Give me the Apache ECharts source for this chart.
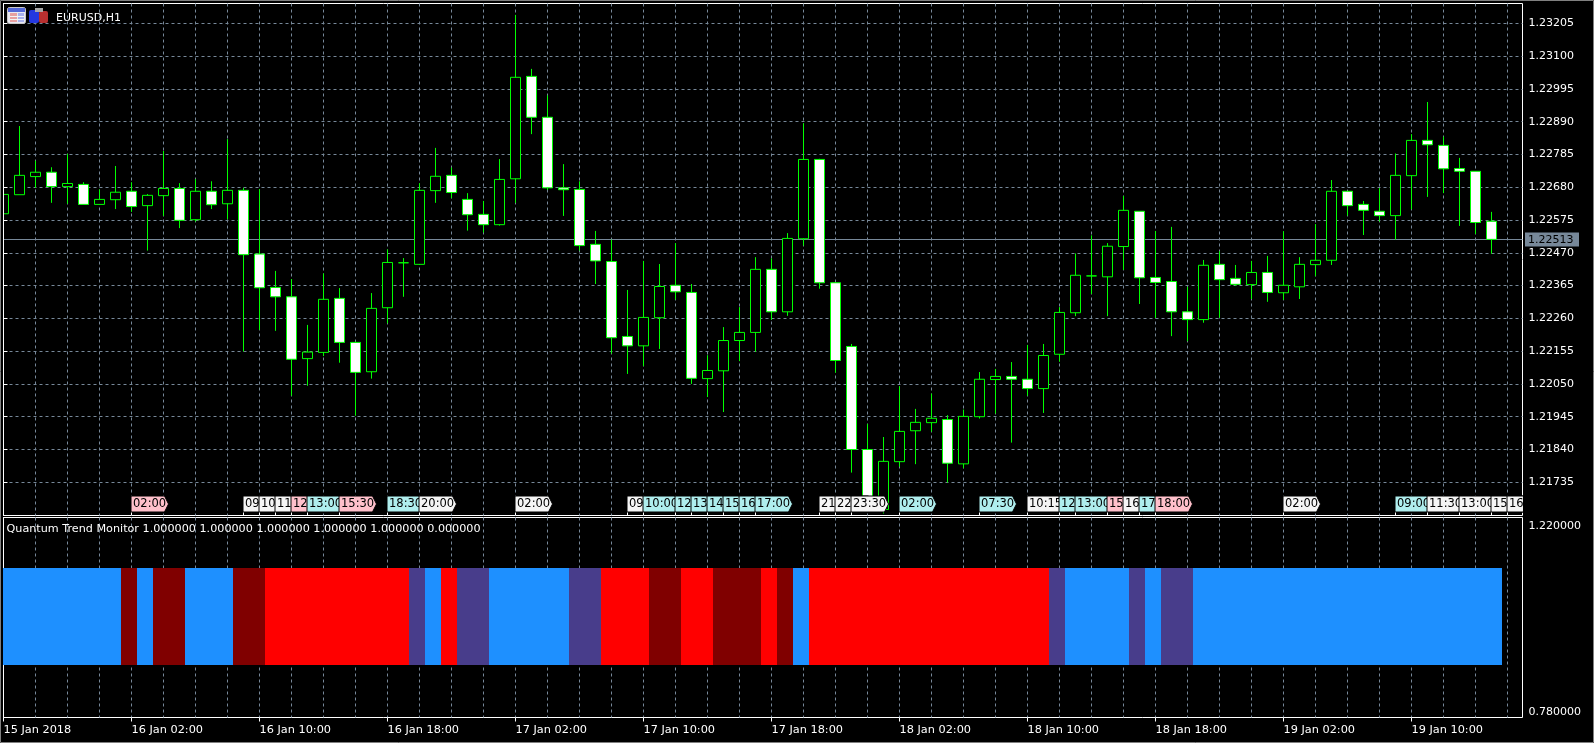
<!DOCTYPE html>
<html>
<head>
<meta charset="utf-8">
<script src="https://cdn.jsdelivr.net/npm/echarts@6/dist/echarts.min.js"></script>
<style>html,body{margin:0;padding:0;background:#000}#c{width:1594px;height:743px}</style>
</head>
<body>
<div id="c"></div>
<script>
var symbolTitle = 'EURUSD,H1';
var indicatorTitle = 'Quantum Trend Monitor 1.000000 1.000000 1.000000 1.000000 1.000000 0.000000';
var lastPrice = 1.22513;
var opens = [1.22595,1.22656,1.22714,1.22728,1.22682,1.22689,1.22625,1.22640,1.22667,1.22621,
1.22653,1.22676,1.22576,1.22667,1.22627,1.22670,1.22466,1.22359,1.22329,1.22131,
1.22151,1.22324,1.22183,1.22089,1.22294,1.22438,1.22433,1.22669,1.22718,1.22641,
1.22593,1.22560,1.22707,1.23035,1.22904,1.22678,1.22673,1.22497,1.22442,1.22202,
1.22172,1.22262,1.22366,1.22343,1.22067,1.22092,1.22189,1.22215,1.22417,1.22281,
1.22515,1.22769,1.22374,1.22170,1.21840,1.21648,1.21801,1.21900,1.21926,1.21936,
1.21794,1.21945,1.22064,1.22074,1.22065,1.22035,1.22145,1.22278,1.22396,1.22393,
1.22490,1.22603,1.22391,1.22378,1.22281,1.22256,1.22433,1.22388,1.22368,1.22407,
1.22342,1.22361,1.22432,1.22446,1.22667,1.22625,1.22603,1.22589,1.22717,1.22830,
1.22814,1.22740,1.22731,1.22571];
var closes = [1.22657,1.22718,1.22728,1.22682,1.22692,1.22625,1.22641,1.22664,1.22618,1.22654,
1.22676,1.22574,1.22667,1.22624,1.22670,1.22464,1.22358,1.22329,1.22129,1.22152,
1.22321,1.22183,1.22087,1.22292,1.22439,1.22438,1.22670,1.22715,1.22663,1.22592,
1.22560,1.22705,1.23032,1.22904,1.22678,1.22672,1.22493,1.22444,1.22198,1.22172,
1.22263,1.22362,1.22345,1.22068,1.22093,1.22189,1.22215,1.22417,1.22281,1.22516,
1.22769,1.22374,1.22125,1.21840,1.21657,1.21802,1.21898,1.21927,1.21940,1.21796,
1.21946,1.22065,1.22074,1.22065,1.22035,1.22141,1.22279,1.22398,1.22396,1.22491,
1.22606,1.22390,1.22375,1.22281,1.22256,1.22430,1.22384,1.22369,1.22407,1.22343,
1.22366,1.22433,1.22446,1.22667,1.22621,1.22606,1.22589,1.22718,1.22830,1.22816,
1.22739,1.22731,1.22567,1.22513];
var lows = [1.22585,1.22656,1.22678,1.22630,1.22627,1.22625,1.22624,1.22610,1.22601,1.22477,
1.22588,1.22549,1.22570,1.22610,1.22577,1.22154,1.22223,1.22220,1.22012,1.22044,
1.22139,1.22118,1.21948,1.22067,1.22244,1.22329,1.22431,1.22630,1.22645,1.22541,
1.22535,1.22557,1.22630,1.22850,1.22671,1.22588,1.22477,1.22370,1.22147,1.22082,
1.22107,1.22162,1.22320,1.22050,1.22008,1.21960,1.22123,1.22153,1.22255,1.22268,
1.22493,1.22355,1.22086,1.21766,1.21641,1.21635,1.21785,1.21793,1.21897,1.21734,
1.21780,1.21939,1.21955,1.21862,1.22012,1.21957,1.22121,1.22267,1.22338,1.22267,
1.22415,1.22306,1.22261,1.22203,1.22187,1.22246,1.22262,1.22364,1.22322,1.22313,
1.22319,1.22322,1.22395,1.22431,1.22589,1.22527,1.22570,1.22512,1.22609,1.22649,
1.22661,1.22556,1.22530,1.22467];
var highs = [1.22670,1.22876,1.22765,1.22744,1.22787,1.22696,1.22673,1.22748,1.22696,1.22658,
1.22796,1.22693,1.22706,1.22699,1.22834,1.22678,1.22674,1.22412,1.22386,1.22239,
1.22404,1.22357,1.22186,1.22341,1.22481,1.22453,1.22693,1.22806,1.22743,1.22661,
1.22636,1.22770,1.23232,1.23059,1.22974,1.22754,1.22699,1.22540,1.22512,1.22351,
1.22444,1.22434,1.22501,1.22370,1.22142,1.22232,1.22296,1.22456,1.22452,1.22533,
1.22885,1.22771,1.22376,1.22178,1.21922,1.21880,1.22043,1.21970,1.22019,1.21950,
1.21968,1.22088,1.22098,1.22120,1.22175,1.22178,1.22296,1.22468,1.22526,1.22501,
1.22652,1.22603,1.22540,1.22553,1.22361,1.22447,1.22475,1.22431,1.22444,1.22460,
1.22539,1.22456,1.22562,1.22703,1.22667,1.22636,1.22677,1.22788,1.22850,1.22953,
1.22842,1.22774,1.22731,1.22601];
var priceTicks = [1.23205,1.23100,1.22995,1.22890,1.22785,1.22680,1.22575,1.22470,1.22365,1.22260,1.22155,1.22050,1.21945,1.21840,1.21735];
var gridBars = [2,4,6,8,10,12,14,16,18,20,22,24,26,28,30,32,34,36,38,40,42,44,46,48,50,52,54,56,58,60,62,64,66,68,70,72,74,76,78,80,82,84,86,88,90,92,94];
var dateBars = [0,8,16,24,32,40,48,56,64,72,80,88];
var dateLabels = ['15 Jan 2018','16 Jan 02:00','16 Jan 10:00','16 Jan 18:00','17 Jan 02:00','17 Jan 10:00','17 Jan 18:00','18 Jan 02:00','18 Jan 10:00','18 Jan 18:00','19 Jan 02:00','19 Jan 10:00'];
var tagBars = [8,15,16,17,18,19,21,24,26,32,39,40,42,43,44,45,46,47,51,52,53,56,61,64,66,67,69,70,71,72,80,87,89,91,93,94];
var tagTexts = ['02:00','09:00','10:00','11:00','12:00','13:00','15:30','18:30','20:00','02:00','09:00','10:00','12:00','13:00','14:00','15:00','16:00','17:00','21:00','22:00','23:30','02:00','07:30','10:15','12:00','13:00','15:00','16:00','17:00','18:00','02:00','09:00','11:30','13:00','15:00','16:00'];
var tagKinds = [1,0,0,0,1,2,1,2,0,0,0,2,2,2,2,2,2,2,0,0,0,2,2,0,2,2,1,0,2,1,0,2,0,0,0,0];
var tagColors = ['#F5F5F5','#FFC0CB','#AFEEEE'];
var trendStates = [0,0,0,0,0,0,0,0,1,0,1,1,0,0,0,1,1,2,2,2,2,2,2,2,2,2,3,0,2,3,3,0,0,0,0,0,3,3,2,2,2,1,1,2,2,1,1,1,2,1,0,
2,2,2,2,2,2,2,2,2,2,2,2,2,2,2,3,0,0,0,0,3,0,3,3,0,0,0,0,0,0,0,0,0,0,0,0,0,0,0,0,0,0,0];
var trendColors = ['#1E90FF','#800000','#FF0000','#483D8B'];
var trendHigh = 1.109, trendLow = 0.8955;
var subTicks = [0.78, 1.22];

var FONT = '"DejaVu Sans"';
var GRID = '#778899';
var candleData = opens.map(function (o, i) { return [i, o, closes[i], lows[i], highs[i]]; });
var trendData = trendStates.map(function (s, i) { return [i, trendLow, trendHigh, s]; });
var tagData = tagBars.map(function (b, i) { return [b, tagKinds[i]]; });
var XMAX = 94.9375;

var gridX = {
  type: 'value', min: 0, max: XMAX,
  axisLine: { show: false },
  axisTick: { show: false, customValues: gridBars },
  axisLabel: { show: false },
  splitLine: { show: true, lineStyle: { color: GRID, type: [3, 3], width: 1 } }
};
var option = {
  backgroundColor: '#000',
  animation: false,
  grid: [
    { left: 3.5, top: 3.5, width: 1519, height: 512, show: true, backgroundColor: '#000', borderColor: '#fff', borderWidth: 1 },
    { left: 3.5, top: 517.5, width: 1519, height: 200, show: true, backgroundColor: '#000', borderColor: '#fff', borderWidth: 1 }
  ],
  xAxis: [
    Object.assign({ gridIndex: 0 }, gridX),
    Object.assign({ gridIndex: 1 }, gridX),
    {
      gridIndex: 1, type: 'value', min: 0, max: XMAX, position: 'bottom',
      axisLine: { show: false },
      axisTick: { show: true, length: 4, customValues: dateBars, lineStyle: { color: '#fff' } },
      axisLabel: {
        show: true, customValues: dateBars, align: 'left', margin: 7,
        color: '#fff', fontFamily: FONT, fontSize: 11.3,
        formatter: function (v) { return dateLabels[dateBars.indexOf(v)]; }
      },
      splitLine: { show: false }
    }
  ],
  yAxis: [
    {
      gridIndex: 0, type: 'value', position: 'right', min: 1.216286, max: 1.232684, scale: true,
      axisLine: { show: true, lineStyle: { color: '#fff' } },
      axisTick: { show: true, length: 4, customValues: priceTicks, lineStyle: { color: '#fff' } },
      axisLabel: {
        show: true, customValues: priceTicks, margin: 6, color: '#fff', fontFamily: FONT, fontSize: 11,
        padding: [2, 0, 0, 0],
        formatter: function (v) { return v.toFixed(5); }
      },
      splitLine: { show: true, lineStyle: { color: GRID, type: [3, 3], width: 1 } }
    },
    {
      gridIndex: 1, type: 'value', position: 'right', min: 0.78, max: 1.22, scale: true,
      axisLine: { show: true, lineStyle: { color: '#fff' } },
      axisTick: { show: true, length: 4, customValues: subTicks, lineStyle: { color: '#fff' } },
      axisLabel: {
        show: true, customValues: subTicks, margin: 6, color: '#fff', fontFamily: FONT, fontSize: 11,
        verticalAlignMaxLabel: 'top', verticalAlignMinLabel: 'bottom',
        padding: [3, 0, 0, 0],
        formatter: function (v) { return v.toFixed(6); }
      },
      splitLine: { show: false }
    }
  ],
  series: [
    {
      type: 'custom', xAxisIndex: 0, yAxisIndex: 0, z: 1, silent: true, clip: false,
      encode: { y: 0 },
      data: [[lastPrice]],
      renderItem: function (params, api) {
        var p = api.value(0);
        var a = api.coord([0, p]), b = api.coord([XMAX, p]);
        var y = Math.round(a[1]) + 0.5;
        return {
          type: 'group',
          children: [
            { type: 'line', shape: { x1: a[0], y1: y, x2: b[0], y2: y }, style: { stroke: GRID, lineWidth: 1 } },
            { type: 'rect', shape: { x: b[0] + 2.5, y: y - 7, width: 54, height: 14 }, style: { fill: GRID } },
            { type: 'text', x: b[0] + 5.5, y: y + 0.5, style: { text: p.toFixed(5), fill: '#000', font: '11px ' + FONT, textVerticalAlign: 'middle', textAlign: 'left' } }
          ]
        };
      }
    },
    {
      type: 'candlestick', xAxisIndex: 0, yAxisIndex: 0, z: 3, silent: true,
      barWidth: 10,
      encode: { x: 0, y: [1, 2, 3, 4] },
      itemStyle: { color: '#000', color0: '#fff', borderColor: '#00FF00', borderColor0: '#00FF00', borderWidth: 1 },
      data: candleData
    },
    {
      type: 'custom', xAxisIndex: 0, yAxisIndex: 0, z: 5, silent: true, clip: true,
      encode: { x: 0, y: [] },
      data: tagData,
      renderItem: function (params, api) {
        var b = api.value(0), kind = api.value(1), text = tagTexts[params.dataIndex];
        var x = api.coord([b, 1.22])[0];
        var cs = params.coordSys;
        var bottom = cs.y + cs.height;
        var t = bottom - 19.5, e = bottom - 3.5, mid = (t + e) / 2;
        return {
          type: 'group',
          children: [
            { type: 'line', shape: { x1: x, y1: e, x2: x, y2: bottom }, style: { stroke: '#fff', lineWidth: 1 } },
            { type: 'polygon', shape: { points: [[x - 0.5, t], [x + 33, t], [x + 37, mid], [x + 33, e], [x - 0.5, e]] }, style: { fill: tagColors[kind], stroke: '#000', lineWidth: 1 } },
            { type: 'text', x: x + 1.5, y: mid + 0.5, style: { text: text, fill: '#000', font: '11.5px ' + FONT, textVerticalAlign: 'middle', textAlign: 'left' } }
          ]
        };
      }
    },
    {
      type: 'custom', xAxisIndex: 1, yAxisIndex: 1, z: 3, silent: true, clip: true,
      encode: { x: 0, y: [1, 2] },
      data: trendData,
      renderItem: function (params, api) {
        var b = api.value(0);
        var half = 0.65625;
        var p0 = api.coord([b - half, api.value(2)]);
        var p1 = api.coord([b + half, api.value(1)]);
        return { type: 'rect', shape: { x: p0[0], y: p0[1], width: p1[0] - p0[0], height: p1[1] - p0[1] }, style: { fill: trendColors[api.value(3)] } };
      }
    }
  ],
  graphic: [
    { type: 'rect', z: 100, silent: true, shape: { x: 1, y: 4, width: 2, height: 511 }, style: { fill: '#000' } },
    { type: 'line', z: 100, silent: true, shape: { x1: 3.5, y1: 3.5, x2: 3.5, y2: 515.5 }, style: { stroke: '#fff', lineWidth: 1 } },
    { type: 'rect', z: 100, silent: true, shape: { x: 0.5, y: 0.5, width: 1593, height: 742 }, style: { fill: null, stroke: '#808080', lineWidth: 1 } },
    { type: 'text', z: 100, silent: true, x: 56, y: 18, style: { text: symbolTitle, fill: '#fff', font: '11px ' + FONT, textVerticalAlign: 'middle' } },
    { type: 'text', z: 100, silent: true, x: 6.5, y: 529.5, style: { text: indicatorTitle, fill: '#fff', font: '11.2px ' + FONT, textVerticalAlign: 'middle' } },
    { type: 'rect', z: 100, silent: true, shape: { x: 7.5, y: 7.5, width: 18, height: 16, r: 2 }, style: { fill: '#e8e8f0', stroke: '#c8c8c8', lineWidth: 1 } },
    { type: 'rect', z: 101, silent: true, shape: { x: 8, y: 8, width: 17, height: 4 }, style: { fill: '#5468d8' } },
    { type: 'rect', z: 101, silent: true, shape: { x: 10, y: 13, width: 7, height: 9 }, style: { fill: '#e8a0a0' } },
    { type: 'rect', z: 101, silent: true, shape: { x: 18, y: 13, width: 6, height: 9 }, style: { fill: '#a8b0ec' } },
    { type: 'line', z: 102, silent: true, shape: { x1: 10, y1: 16.5, x2: 24, y2: 16.5 }, style: { stroke: '#f4f4f4', lineWidth: 1 } },
    { type: 'line', z: 102, silent: true, shape: { x1: 10, y1: 19.5, x2: 24, y2: 19.5 }, style: { stroke: '#f4f4f4', lineWidth: 1 } },
    { type: 'rect', z: 100, silent: true, shape: { x: 29, y: 10, width: 10, height: 13, r: 2 }, style: { fill: '#2438e0' } },
    { type: 'rect', z: 100, silent: true, shape: { x: 39, y: 11, width: 9, height: 12, r: 2 }, style: { fill: '#b83030' } },
    { type: 'rect', z: 101, silent: true, shape: { x: 35, y: 8, width: 8, height: 4 }, style: { fill: '#a8a8a8' } }
  ]
};
var chart = echarts.init(document.getElementById('c'), null, { renderer: 'canvas', width: 1594, height: 743 });
chart.setOption(option);
</script>
</body>
</html>
